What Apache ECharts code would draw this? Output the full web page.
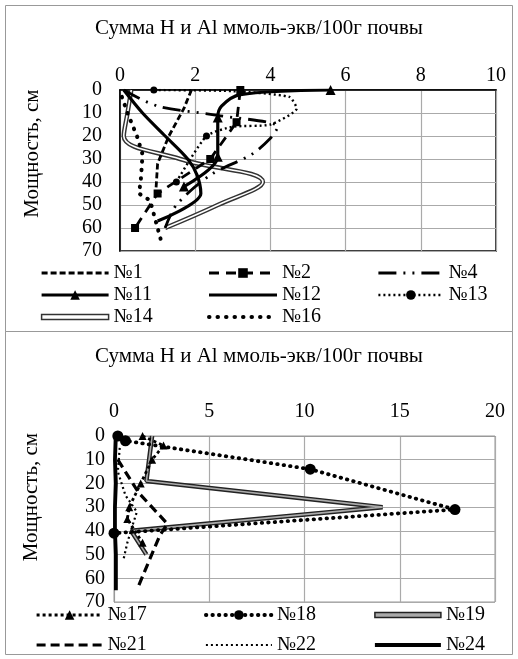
<!DOCTYPE html>
<html>
<head>
<meta charset="utf-8">
<script src="https://cdn.jsdelivr.net/npm/echarts@6/dist/echarts.min.js"></script>
<style>
  html, body { margin: 0; padding: 0; background: #fff; }
  #chart { width: 518px; height: 659px; }
</style>
</head>
<body>
<div id="chart"></div>
<script>
// подписи
const titleText = 'Сумма H и Al ммоль-экв/100г почвы';
const yName = 'Мощность, см';

// верхний график: [значение, глубина]
const s1 = [[1.9, 0], [1.7, 8], [1.3, 20], [1.0, 32], [0.95, 45]];
const s2 = [[3.2, 0], [3.1, 14], [2.4, 30], [1.0, 45], [0.4, 60]];
const s4 = [[0.1, 0], [1.0, 7], [2.6, 11], [4.2, 16], [4.0, 21], [3.5, 28], [2.4, 37], [1.5, 50], [1.2, 60]];
const s11 = [[5.6, 0], [3.2, 2], [2.7, 7], [2.6, 12], [2.6, 29], [1.7, 42]];
const s12 = [[0.1, 0], [0.6, 10], [1.2, 20], [1.8, 30], [2.05, 37], [2.15, 45], [1.0, 57]];
const s13 = [[0.9, 0], [3.0, 0.5], [4.5, 3], [4.7, 8], [4.0, 15], [3.0, 16], [2.3, 20], [1.5, 40]];
const s14 = [[0.3, 0], [0.2, 10], [0.1, 20], [1.6, 30], [3.8, 40], [2.6, 50], [1.2, 60]];
const s16 = [[0.05, 3], [0.2, 10], [0.45, 20], [0.6, 28], [0.55, 40], [0.5, 45], [0.8, 48], [1.1, 66]];

// нижний график
const s17 = [[1.5, 0], [2.6, 4], [2.0, 10], [1.4, 20], [0.8, 30], [0.7, 35], [1.5, 45]];
const s18 = [[0.2, 0], [0.6, 2], [10.3, 14], [17.9, 31], [0, 41]];
const s19 = [[2.0, 0], [1.7, 19], [14.1, 30], [0.9, 40], [1.7, 50]];
const s21 = [[0.2, 10], [1.3, 24], [2.8, 37], [2.4, 42], [1.3, 63]];
const s22 = [[0.3, 5], [0.2, 15], [0.6, 25], [1.2, 32], [1.0, 37], [0.7, 45], [0.5, 52]];
const s24 = [[0.1, 0], [0.05, 10], [0.1, 20], [0.05, 30], [0.05, 40], [0.1, 50], [0.1, 65]];

const FONT = 'Liberation Serif';

// маркеры только в отдельных точках
function marked(pts, idx) {
  return pts.map((p, i) => idx.indexOf(i) >= 0 ? { value: p } : { value: p, symbolSize: 0 });
}

function line(name, data, g, ls, extra) {
  return Object.assign({
    name: name, type: 'line', data: data,
    xAxisIndex: g, yAxisIndex: g,
    symbol: 'none', animation: false,
    lineStyle: Object.assign({ color: '#000', width: 2.8 }, ls),
    itemStyle: { color: '#000' }
  }, extra || {});
}

function xAx(g, max, interval, margin) {
  return {
    type: 'value', gridIndex: g, position: 'top', min: 0, max: max, interval: interval,
    axisLine: { show: true, lineStyle: { color: g === 0 ? '#000' : '#999', width: g === 0 ? 1.5 : 1 } },
    axisTick: { show: false },
    axisLabel: { fontFamily: FONT, fontSize: 20, color: '#000', margin: margin },
    splitLine: { show: true, lineStyle: { color: '#aaa', width: 1.2 } }
  };
}

function yAx(g, margin, gap, shift) {
  return {
    type: 'value', gridIndex: g, inverse: true, min: 0, max: 70, interval: 10,
    name: yName, nameLocation: 'middle', nameGap: gap,
    nameTextStyle: { fontFamily: FONT, fontSize: 21, color: '#000', padding: [0, 0, 0, shift] },
    axisLine: { show: true, lineStyle: { color: g === 0 ? '#000' : '#999', width: g === 0 ? 1.5 : 1 } },
    axisTick: { show: false },
    axisLabel: { fontFamily: FONT, fontSize: 20, color: '#000', margin: margin },
    splitLine: { show: true, lineStyle: { color: '#aaa', width: 1.2 } }
  };
}

function legendCol(left, top, gap, w, items) {
  return {
    orient: 'vertical', left: left, top: top, itemGap: gap, itemWidth: w, itemHeight: 12,
    selectedMode: false, padding: 0,
    lineStyle: { width: 'inherit' },
    textStyle: { fontFamily: FONT, fontSize: 20, color: '#000' },
    data: items
  };
}

// линия без маркера в легенде
function plain(name) {
  return { name: name, itemStyle: { opacity: 0 } };
}

const dblTop = { name: '№14', icon: 'path://M0,0H67V5H0Z', itemStyle: { color: '#fff', borderColor: '#333', borderWidth: 1.5 } };
const dblBot = { name: '№19', icon: 'path://M0,0H67V5H0Z', itemStyle: { color: '#aaa', borderColor: '#222', borderWidth: 1.5 } };

const titleStyle = { fontFamily: FONT, fontSize: 21, fontWeight: 'normal', color: '#000' };

const option = {
  backgroundColor: '#fff',
  title: [
    { text: titleText, left: 'center', top: 13, textStyle: titleStyle },
    { text: titleText, left: 'center', top: 341, textStyle: titleStyle }
  ],
  graphic: [
    { type: 'rect', shape: { x: 5.5, y: 5.5, width: 507, height: 326 }, style: { fill: 'none', stroke: '#999', lineWidth: 1 } },
    { type: 'rect', shape: { x: 5.5, y: 331.5, width: 507, height: 323 }, style: { fill: 'none', stroke: '#999', lineWidth: 1 } }
  ],
  grid: [
    { left: 120, top: 90, width: 376, height: 161, show: true, borderColor: '#000', borderWidth: 1.5, containLabel: false },
    { left: 114, top: 436, width: 381, height: 166, show: true, borderColor: '#999', borderWidth: 1, containLabel: false }
  ],
  xAxis: [xAx(0, 10, 2, 4), xAx(1, 20, 5, 14)],
  yAxis: [yAx(0, 18, 77, 34), yAx(1, 9, 72, 44)],
  legend: [
    legendCol(40, 263, 2, 67, [plain('№1'), '№11', dblTop]),
    legendCol(207, 263, 2, 68, ['№2', plain('№12'), plain('№16')]),
    legendCol(377, 263, 2, 65, [plain('№4'), '№13']),
    legendCol(35, 605, 10, 66, ['№17', plain('№21')]),
    legendCol(204, 605, 10, 66, ['№18', plain('№22')]),
    legendCol(373, 605, 10, 66, [dblBot, plain('№24')])
  ],
  series: [
    line('№14', s14, 0, { color: '#333', width: 4.5 }, { smooth: 0.4 }),
    line('№14в', s14, 0, { color: '#fff', width: 1.6 }, { smooth: 0.4, z: 3 }),
    line('№1', s1, 0, { type: [6, 3] }),
    line('№2', marked(s2, [0, 1, 2, 3, 4]), 0, { type: [10, 7] }, { symbol: 'rect', symbolSize: 8 }),
    line('№4', s4, 0, { type: [18, 7, 2, 7, 2, 7] }, { smooth: 0.3 }),
    line('№11', marked(s11, [0, 3, 4, 5]), 0, { width: 3.2 }, { symbol: 'triangle', symbolSize: 10, smooth: 0.3 }),
    line('№12', s12, 0, { width: 3.2 }, { smooth: 0.3 }),
    line('№13', marked(s13, [0, 6, 7]), 0, { type: [2, 3], width: 2.4 }, { symbol: 'circle', symbolSize: 7, smooth: 0.2 }),
    line('№16', s16, 0, { type: [0.5, 8], cap: 'round', width: 4 }),

    line('№19', s19, 1, { color: '#222', width: 4.5 }),
    line('№19в', s19, 1, { color: '#aaa', width: 1.6 }, { z: 3 }),
    line('№17', s17, 1, { type: [3, 3] }, { symbol: 'triangle', symbolSize: 8 }),
    line('№18', s18, 1, { type: [0.5, 6], cap: 'round', width: 3.8 }, { symbol: 'circle', symbolSize: 11 }),
    line('№21', s21, 1, { type: [9, 5], width: 3.2 }),
    line('№22', s22, 1, { type: [2, 3], width: 2.2 }),
    line('№24', s24, 1, { width: 3.8 })
  ]
};

const chart = echarts.init(document.getElementById('chart'), null, { renderer: 'canvas' });
chart.setOption(option);
</script>
</body>
</html>
